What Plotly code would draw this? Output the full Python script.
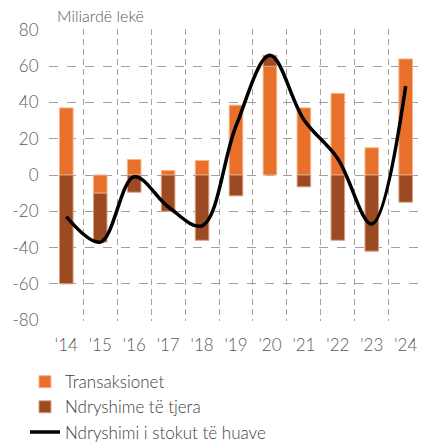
import plotly.graph_objects as go

years = ["'14", "'15", "'16", "'17", "'18", "'19", "'20", "'21", "'22", "'23", "'24"]
transaksionet = [37, -10, 8.5, 2.5, 8, 38.5, 60, 37, 45, 15, 64]
ndryshime = [-60, -27, -9.5, -20, -36, -11.5, 6, -6.5, -36, -42, -15]
stoku = [-23, -37, -1, -17.5, -28, 27, 66, 30.5, 9, -27, 49]
ytickvals = [80, 60, 40, 20, 0, -20, -40, -60, -80]
yticktext = ["80", "60", "40", "20", "0", "-20", "-40", "-60", "-80"]

xpos = list(range(len(years)))
# boundaries between categories carry the vertical gridlines; labels are shifted to centres
xbounds = [i - 0.5 for i in range(len(years) + 1)]
xlabels = years + [""]
FONT = "Lato"
GRAY = "#595959"

fig = go.Figure()
fig.add_trace(go.Bar(x=xpos, y=transaksionet, name="Transaksionet",
                     marker=dict(color="#E8702A", line=dict(color="#F5B48C", width=1)),
                     width=0.4))
fig.add_trace(go.Bar(x=xpos, y=ndryshime, name="Ndryshime të tjera",
                     marker=dict(color="#9B4A22", line=dict(color="#D9A080", width=1)),
                     width=0.4))
fig.add_trace(go.Scatter(x=xpos, y=stoku, name="Ndryshimi i stokut të huave",
                         mode="lines", line=dict(color="black", width=3.5, shape="spline", smoothing=1.0)))

fig.update_layout(
    width=427, height=443,
    margin=dict(l=49, r=4, t=29, b=122, autoexpand=False),
    plot_bgcolor="white", paper_bgcolor="white",
    barmode="relative",
    font=dict(family=FONT, color=GRAY, size=16, weight=300),
    xaxis=dict(range=[-0.51, 10.51], tickvals=xbounds, ticktext=xlabels,
               ticklabelshift=17, zeroline=False, showline=False,
               ticks="outside", ticklen=9, tickcolor="rgba(0,0,0,0)", automargin=False,
               showgrid=True, gridcolor="#A0A0A0", griddash="6px,4px", gridwidth=1,
               tickfont=dict(size=17, color=GRAY, weight=300)),
    yaxis=dict(range=[-80.5, 80.5], tickvals=ytickvals, ticktext=yticktext,
               zeroline=False, ticks="outside", ticklen=6, tickcolor="rgba(0,0,0,0)",
               automargin=False,
               showgrid=True, gridcolor="#A0A0A0", griddash="dash", gridwidth=1,
               tickfont=dict(size=17, color=GRAY, weight=300)),
    legend=dict(xref="container", yref="container", x=0.0585, y=0.178,
                xanchor="left", yanchor="top",
                font=dict(size=17, color="#404040", weight=300), tracegroupgap=0,
                itemwidth=30, bgcolor="rgba(0,0,0,0)"),
    showlegend=True,
    annotations=[dict(text="Miliardë lekë", xref="paper", yref="paper",
                      x=0.015, y=1.0, xanchor="left", yanchor="bottom", yshift=2,
                      showarrow=False, font=dict(size=16, color=GRAY, family=FONT, weight=300))],
)
fig.write_html("out.html", config={"displayModeBar": False},
               post_script="document.body.style.margin='0';document.body.style.overflow='hidden';")
